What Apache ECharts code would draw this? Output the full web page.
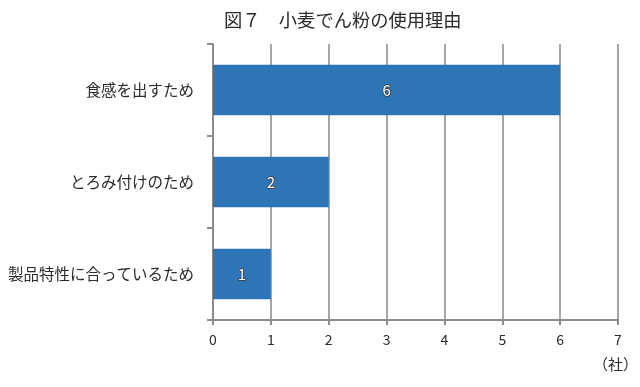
<!DOCTYPE html>
<html>
<head>
<meta charset="utf-8">
<script src="https://cdn.jsdelivr.net/npm/echarts@6/dist/echarts.min.js"></script>
<style>html,body{margin:0;padding:0;background:#fff}#c{width:640px;height:387px}</style>
</head>
<body>
<div id="c"></div>
<script>
var titleText = '図７　小麦でん粉の使用理由';
var categories = ['食感を出すため', 'とろみ付けのため', '製品特性に合っているため'];
var values = [6, 2, 1];
var xTicks = [0, 1, 2, 3, 4, 5, 6, 7];
var unitText = '（社）';

var font = '"Noto Sans CJK JP", "Noto Sans", sans-serif';
var chart = echarts.init(document.getElementById('c'), null, {renderer: 'canvas'});
chart.setOption({
  animation: false,
  backgroundColor: '#fff',
  title: {
    text: titleText, left: 219, top: 6,
    textStyle: {fontFamily: font, fontSize: 18.3, fontWeight: 'normal', color: '#2b2b2b'}
  },
  graphic: [{
    type: 'text', right: 2, top: 357,
    style: {text: unitText, fontFamily: font, fontSize: 15, fill: '#2b2b2b'}
  }],
  grid: {left: 213, right: 22, top: 44, bottom: 67},
  xAxis: {
    type: 'value', min: xTicks[0], max: xTicks[xTicks.length - 1], interval: 1,
    axisLine: {show: true, lineStyle: {color: '#8c8c8c', width: 2}},
    axisTick: {show: true, length: 5, lineStyle: {color: '#8c8c8c', width: 2}},
    axisLabel: {fontFamily: font, fontSize: 14, color: '#2b2b2b', margin: 13},
    splitLine: {show: true, lineStyle: {color: '#a6a6a6', width: 2}}
  },
  yAxis: {
    type: 'category', data: categories, inverse: true,
    axisLine: {show: true, lineStyle: {color: '#8c8c8c', width: 2}},
    axisTick: {show: true, length: 6, lineStyle: {color: '#8c8c8c', width: 2}},
    axisLabel: {fontFamily: font, fontSize: 15.5, color: '#2b2b2b', margin: 19}
  },
  series: [{
    type: 'bar', data: values, barWidth: '55%',
    itemStyle: {color: '#2E75B6'},
    label: {
      show: true, position: 'inside', fontFamily: font, fontSize: 15,
      color: '#fff', textBorderColor: '#3a3a3a', textBorderWidth: 1.5
    }
  }]
});
</script>
</body>
</html>
